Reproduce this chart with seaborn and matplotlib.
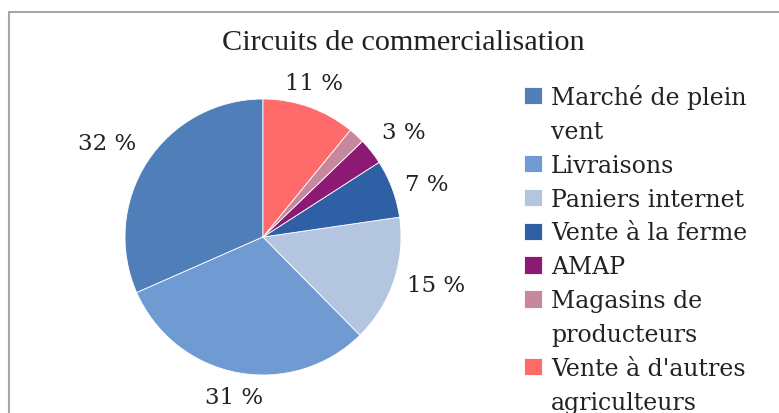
import numpy as np
import matplotlib
matplotlib.use("Agg")
import matplotlib.pyplot as plt
import seaborn as sns
from matplotlib.patches import Rectangle

# data
categories = [
    "Marché de plein\nvent",
    "Livraisons",
    "Paniers internet",
    "Vente à la ferme",
    "AMAP",
    "Magasins de\nproducteurs",
    "Vente à d'autres\nagriculteurs",
]
shares = [31.6, 30.8, 14.9, 6.8, 3.1, 1.9, 10.9]
show_label = [True, True, True, True, True, False, True]
colors = ["#4F7EB9", "#6F9BD2", "#B3C5DF", "#2F5FA5", "#8C1A72", "#C6879F", "#FF6B6B"]
title = "Circuits de commercialisation"

sns.set_theme(style="white")
plt.rcParams["font.family"] = ["DejaVu Serif", "DejaVu Sans"]

W, H = 779, 414
fig = plt.figure(figsize=(W / 100, H / 100), dpi=100)
fig.patch.set_facecolor("white")

# chart frame (cut by the image edges)
fig.patches.append(Rectangle((8.5 / W, -0.2), 1.2, (H - 12.5) / H + 0.2,
                             transform=fig.transFigure, fill=False,
                             edgecolor="#a8a8a8", linewidth=1.5))

cx, cy, r = 263, 238, 138
ax = fig.add_axes([(cx - r) / W, (H - cy - r) / H, 2 * r / W, 2 * r / H])
wedges, _ = ax.pie(shares, colors=colors, startangle=90, counterclock=True,
                   wedgeprops=dict(edgecolor="white", linewidth=0.6))
ax.set_xlim(-1, 1)
ax.set_ylim(-1, 1)
ax.set_aspect("equal")
ax.axis("off")

# percent labels just outside each wedge
for w, v, show in zip(wedges, shares, show_label):
    if not show:
        continue
    theta = np.deg2rad((w.theta1 + w.theta2) / 2)
    c, s = np.cos(theta), np.sin(theta)
    ha = "center" if abs(c) < 0.4 else ("left" if c > 0 else "right")
    va = "center" if abs(s) < 0.4 else ("bottom" if s > 0 else "top")
    ax.text(1.1 * c, 1.1 * s, f"{v:.0f} %", ha=ha, va=va, fontsize=16.5,
            color="#222222")

fig.text(403 / W, (H - 43) / H, title, ha="center", va="center",
         fontsize=21.8, family="Liberation Serif", color="#222222")

# one legend row per text line so the squares sit on the first line
handles, labels = [], []
for w, cat in zip(wedges, categories):
    for i, line in enumerate(cat.split("\n")):
        handles.append(w if i == 0 else Rectangle((0, 0), 1, 1, visible=False))
        labels.append(line)

leg = fig.legend(handles, labels, loc="upper left",
                 bbox_to_anchor=(524 / W, (H - 85) / H), frameon=False,
                 fontsize=17, handlelength=0.75, handleheight=0.75,
                 handletextpad=0.4, labelspacing=0.46, borderaxespad=0,
                 borderpad=0)
for t in leg.get_texts():
    t.set_color("#222222")

fig.savefig("out.png", dpi=100)
